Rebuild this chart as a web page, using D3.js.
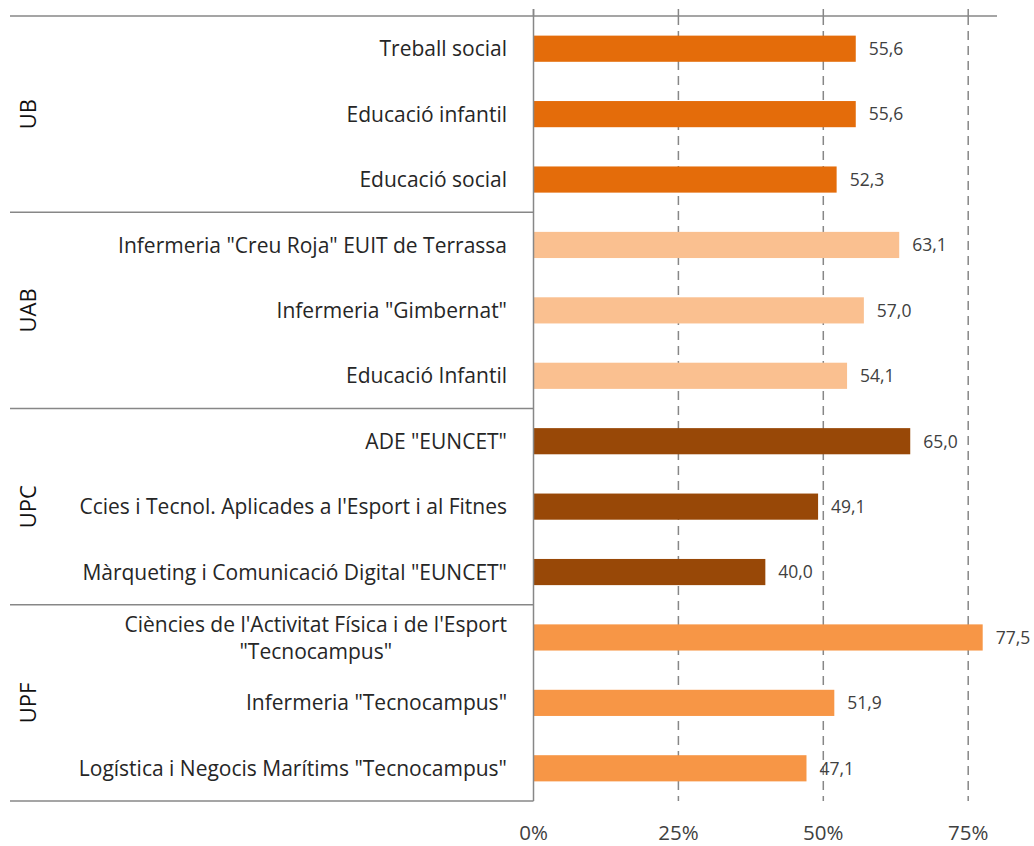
<!DOCTYPE html>
<html>
<head>
<meta charset="utf-8">
<script src="https://cdn.jsdelivr.net/npm/d3@7"></script>
<style>
  html, body { margin: 0; padding: 0; background: #fff; }
  svg { display: block; }
  text { font-family: "Open Sans", Lato, sans-serif; }
</style>
</head>
<body>
<svg id="chart" width="1034" height="846"></svg>
<script>
// ---- data ----
const groups = ["UB", "UAB", "UPC", "UPF"];
const categories = [
  "Treball social",
  "Educació infantil",
  "Educació social",
  "Infermeria \"Creu Roja\" EUIT de Terrassa",
  "Infermeria \"Gimbernat\"",
  "Educació Infantil",
  "ADE \"EUNCET\"",
  "Ccies i Tecnol. Aplicades a l'Esport i al Fitnes",
  "Màrqueting i Comunicació Digital \"EUNCET\"",
  "Ciències de l'Activitat Física i de l'Esport|\"Tecnocampus\"",
  "Infermeria \"Tecnocampus\"",
  "Logística i Negocis Marítims \"Tecnocampus\""
];
const categoryGroup = ["UB","UB","UB","UAB","UAB","UAB","UPC","UPC","UPC","UPF","UPF","UPF"];
const values = [55.6, 55.6, 52.3, 63.1, 57.0, 54.1, 65.0, 49.1, 40.0, 77.5, 51.9, 47.1];
const xTicks = [0, 25, 50, 75];
const groupColors = { UB: "#E46C0A", UAB: "#FAC090", UPC: "#984807", UPF: "#F79646" };

// ---- layout ----
const svg = d3.select("#chart");
const x0 = 533.5, xEnd = 997, yTop = 16, yBot = 801, leftEdge = 10;
const x = d3.scaleLinear().domain([0, 100]).range([x0, x0 + 579.6]);
const y = d3.scaleBand().domain(d3.range(categories.length)).range([yTop, yBot])
  .paddingInner(0.6).paddingOuter(0.3);
const lineColor = "#878787";

// dashed gridlines
svg.append("g").selectAll("line").data(xTicks.filter(d => d > 0)).join("line")
  .attr("x1", d => x(d)).attr("x2", d => x(d))
  .attr("y1", yTop).attr("y2", yBot)
  .attr("stroke", lineColor).attr("stroke-width", 1.5)
  .attr("stroke-dasharray", "9,6");

// tick marks above top line
svg.append("g").selectAll("line").data(xTicks).join("line")
  .attr("x1", d => x(d)).attr("x2", d => x(d))
  .attr("y1", 9).attr("y2", yTop)
  .attr("stroke", lineColor).attr("stroke-width", 1.5);

// bars
svg.append("g").selectAll("rect").data(values).join("rect")
  .attr("x", x(0))
  .attr("y", (d, i) => y(i))
  .attr("width", d => x(d) - x(0))
  .attr("height", y.bandwidth())
  .attr("fill", (d, i) => groupColors[categoryGroup[i]]);

// value labels
svg.append("g").selectAll("text").data(values).join("text")
  .attr("x", d => x(d) + 13)
  .attr("y", (d, i) => y(i) + y.bandwidth() / 2)
  .attr("dy", "0.36em")
  .attr("font-size", 17.5)
  .attr("fill", "#404040")
  .text(d => d3.format(".1f")(d).replace(".", ","));

// group separators (top line full width, others to the axis)
const groupBounds = groups.map(g => {
  const idx = categoryGroup.map((c, i) => c === g ? i : -1).filter(i => i >= 0);
  return { g, start: d3.min(idx), end: d3.max(idx) };
});
const step = y.step();
const boundY = i => y(i) - (step - y.bandwidth()) / 2;

svg.append("line")
  .attr("x1", leftEdge).attr("x2", xEnd).attr("y1", yTop).attr("y2", yTop)
  .attr("stroke", lineColor).attr("stroke-width", 1.5);
svg.append("g").selectAll("line").data(groupBounds).join("line")
  .attr("x1", leftEdge).attr("x2", x0)
  .attr("y1", d => boundY(d.end) + step).attr("y2", d => boundY(d.end) + step)
  .attr("stroke", lineColor).attr("stroke-width", 1.5);

// vertical axis line
svg.append("line")
  .attr("x1", x0).attr("x2", x0).attr("y1", 9).attr("y2", yBot)
  .attr("stroke", lineColor).attr("stroke-width", 1.5);

// category labels
const labelX = 507;
const catFont = 21;
const catG = svg.append("g");
categories.forEach((c, i) => {
  const parts = c.split("|");
  const cy = y(i) + y.bandwidth() / 2;
  if (parts.length === 1) {
    catG.append("text").attr("x", labelX).attr("y", cy).attr("dy", "0.36em")
      .attr("text-anchor", "end").attr("font-size", catFont).attr("fill", "#262626")
      .text(c);
  } else {
    const t1 = catG.append("text").attr("x", labelX).attr("y", cy - 13).attr("dy", "0.36em")
      .attr("text-anchor", "end").attr("font-size", catFont).attr("fill", "#262626")
      .text(parts[0]);
    const w = t1.node().getComputedTextLength();
    catG.append("text").attr("x", labelX - w / 2).attr("y", cy + 14).attr("dy", "0.36em")
      .attr("text-anchor", "middle").attr("font-size", catFont).attr("fill", "#262626")
      .text(parts[1]);
  }
});

// group labels (rotated)
svg.append("g").selectAll("text").data(groupBounds).join("text")
  .attr("transform", d => {
    const cy = (boundY(d.start) + boundY(d.end) + step) / 2;
    return `translate(28,${cy}) rotate(-90)`;
  })
  .attr("dy", "0.36em")
  .attr("text-anchor", "middle").attr("font-size", 22).attr("fill", "#111")
  .text(d => d.g);

// x tick labels
svg.append("g").selectAll("text").data(xTicks).join("text")
  .attr("x", d => x(d)).attr("y", 833).attr("dy", "0.36em")
  .attr("text-anchor", "middle").attr("font-size", 20.5).attr("fill", "#404040")
  .text(d => d + "%");
</script>
</body>
</html>
